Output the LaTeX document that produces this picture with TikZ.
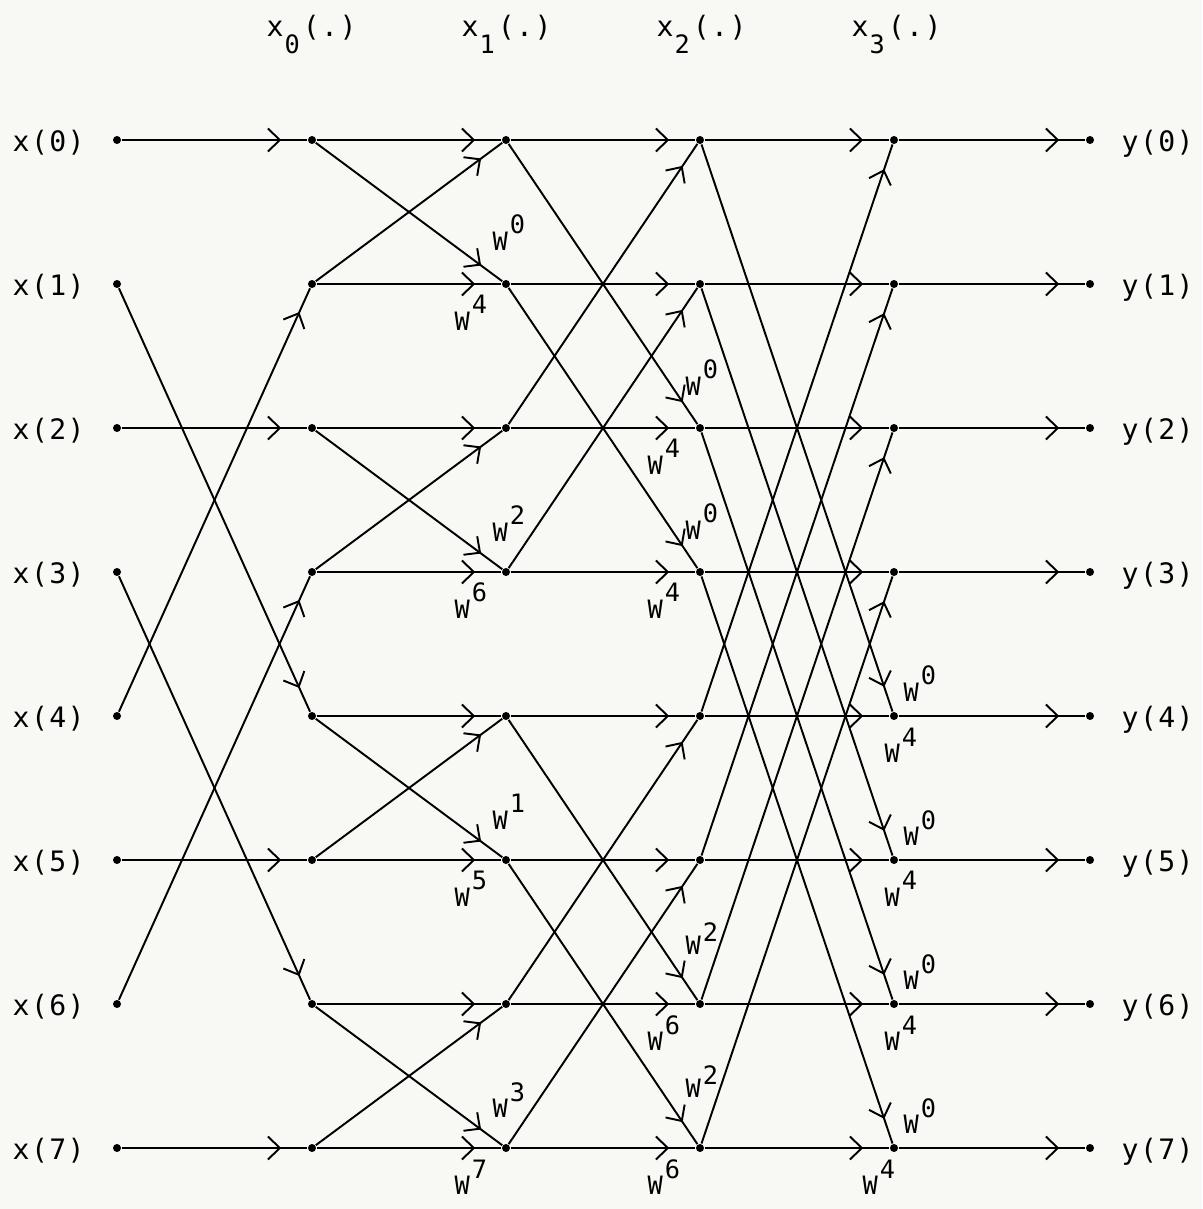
\documentclass[tikz,border=0pt]{standalone}
\usepackage{fontspec}
\newfontfamily\tw[LetterSpace=5]{DejaVu Sans Mono}
\newfontfamily\twl{DejaVu Sans Mono}
\usetikzlibrary{arrows.meta,decorations.markings}
\definecolor{paper}{RGB}{248,248,245}
\newcommand{\smallw}{\twl\fontsize{7.2pt}{8pt}\selectfont}
\newcommand{\wlab}[2][0.16cm]{W\kern0.02cm\raisebox{#1}{#2}}
\newcommand{\hdr}[1]{x\kern0.01cm\raisebox{-0.16cm}{\smallw #1}\kern0.03cm(.)}
\tikzset{
  dot/.style={circle,fill=black,inner sep=0pt,minimum size=0.08cm},
  flow/.style={line width=0.55pt,postaction={decorate},
    decoration={markings,mark=at position -0.26cm with {\arrow{Straight Barb[length=0.12cm,width=0.23cm]}}}},
  lbl/.style={font=\tw\fontsize{8pt}{9pt}\selectfont,inner sep=0pt,anchor=base west},
  wlbl/.style={font=\smallw,inner sep=0pt,anchor=base west},
}
\begin{document}
\begin{tikzpicture}[x=0.01cm,y=-0.01cm]
\path[fill=paper,use as bounding box] (0,0) rectangle (1202,1209);
% nodes
\foreach \i/\y in {0/140,1/284,2/428,3/572,4/716,5/860,6/1004,7/1148}{
  \node[dot] (in\i) at (117,\y) {};
  \node[dot] (a\i) at (312,\y) {};
  \node[dot] (b\i) at (506,\y) {};
  \node[dot] (c\i) at (700,\y) {};
  \node[dot] (d\i) at (894,\y) {};
  \node[dot] (out\i) at (1090,\y) {};
  \node[lbl] (xl\i) at (12,\y+11) {x(\i)};
  \node[lbl] (yl\i) at (1121,\y+11) {y(\i)};
}
% headers
\foreach \k in {0,1,2,3}{
  \node[lbl] (h\k) at (266+195*\k,37) {\hdr{\k}};
}
% input shuffle
\foreach \s/\t in {0/0,1/4,2/2,3/6,4/1,5/5,6/3,7/7}
  \draw[flow] (in\s) -- (a\t);
% stage 1
\foreach \p/\q in {0/1,2/3,4/5,6/7}{
  \draw[flow] (a\p) -- (b\p);
  \draw[flow] (a\p) -- (b\q);
  \draw[flow] (a\q) -- (b\p);
  \draw[flow] (a\q) -- (b\q);
}
% stage 2
\foreach \p/\q in {0/2,1/3,4/6,5/7}{
  \draw[flow] (b\p) -- (c\p);
  \draw[flow] (b\p) -- (c\q);
  \draw[flow] (b\q) -- (c\p);
  \draw[flow] (b\q) -- (c\q);
}
% stage 3
\foreach \p/\q in {0/4,1/5,2/6,3/7}{
  \draw[flow] (c\p) -- (d\p);
  \draw[flow] (c\p) -- (d\q);
  \draw[flow] (c\q) -- (d\p);
  \draw[flow] (c\q) -- (d\q);
}
% outputs
\foreach \i in {0,...,7}
  \draw[flow] (d\i) -- (out\i);
% twiddle labels, stage 1
\node[wlbl] (w1a) at (492,250) {\wlab{0}};
\node[wlbl] (w1b) at (454,330) {\wlab{4}};
\node[wlbl] (w1c) at (492,541) {\wlab{2}};
\node[wlbl] (w1d) at (454,618) {\wlab{6}};
\node[wlbl] (w1e) at (492,829) {\wlab{1}};
\node[wlbl] (w1f) at (454,906) {\wlab{5}};
\node[wlbl] (w1g) at (492,1117) {\wlab{3}};
\node[wlbl] (w1h) at (454,1194) {\wlab{7}};
% stage 2
\node[wlbl] (w2a) at (685,395) {\wlab{0}};
\node[wlbl] (w2b) at (647,474) {\wlab{4}};
\node[wlbl] (w2c) at (685,539) {\wlab{0}};
\node[wlbl] (w2d) at (647,618) {\wlab{4}};
\node[wlbl] (w2e) at (685,954) {\wlab[0.13cm]{2}};
\node[wlbl] (w2f) at (647,1050) {\wlab{6}};
\node[wlbl] (w2g) at (685,1097) {\wlab[0.13cm]{2}};
\node[wlbl] (w2h) at (647,1194) {\wlab{6}};
% stage 3
\node[wlbl] (w3a) at (903,701) {\wlab{0}};
\node[wlbl] (w3b) at (884,762) {\wlab{4}};
\node[wlbl] (w3c) at (903,845) {\wlab{0}};
\node[wlbl] (w3d) at (884,906) {\wlab{4}};
\node[wlbl] (w3e) at (903,989) {\wlab{0}};
\node[wlbl] (w3f) at (884,1050) {\wlab{4}};
\node[wlbl] (w3g) at (903,1133) {\wlab{0}};
\node[wlbl] (w3h) at (862,1194) {\wlab{4}};
\end{tikzpicture}
\end{document}
